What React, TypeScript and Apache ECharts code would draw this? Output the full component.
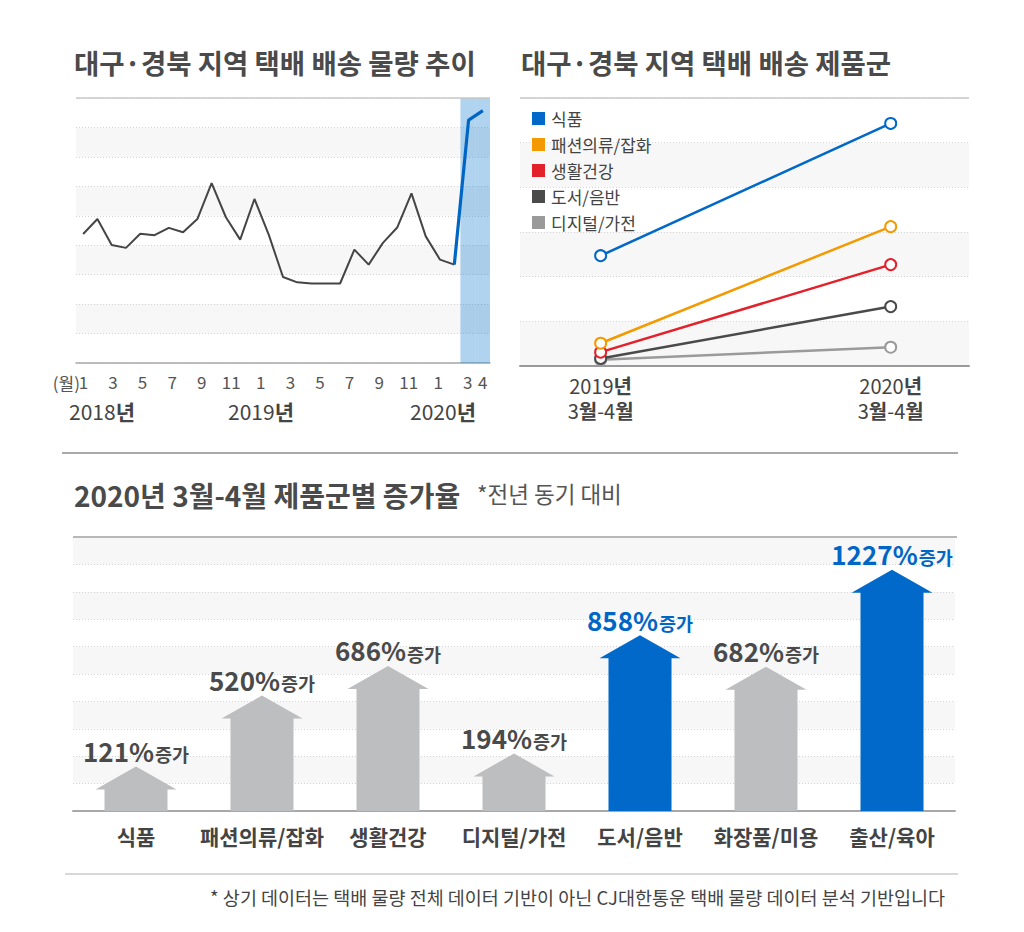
import React, { useEffect, useRef } from 'react';
import * as echarts from 'echarts';

const FONT = '"Noto Sans CJK KR", "Noto Sans", sans-serif';

// ---------- Top-left: monthly delivery volume trend ----------
const monthCategories = [
  '2018-1', '2018-2', '2018-3', '2018-4', '2018-5', '2018-6', '2018-7', '2018-8', '2018-9', '2018-10', '2018-11', '2018-12',
  '2019-1', '2019-2', '2019-3', '2019-4', '2019-5', '2019-6', '2019-7', '2019-8', '2019-9', '2019-10', '2019-11', '2019-12',
  '2020-1', '2020-2', '2020-3', '2020-4',
];
const highlightMonths = ['2020-3', '2020-4'];
const volumePointIds = [
  'p1', 'p2', 'p3', 'p4', 'p5', 'p6', 'p7', 'p8', 'p9', 'p10', 'p11', 'p12', 'p13', 'p14', 'p15',
  'p16', 'p17', 'p18', 'p19', 'p20', 'p21', 'p22', 'p23', 'p24', 'p25', 'p26', 'p27', 'p28', 'p29',
];
const volumeIndex = [
  4.38, 4.89, 4.01, 3.91, 4.39, 4.34, 4.59, 4.44, 4.89, 6.11, 4.95, 4.19, 5.57, 4.36, 2.92,
  2.74, 2.70, 2.70, 2.70, 3.85, 3.34, 4.08, 4.60, 5.76, 4.30, 3.51, 3.34, 8.25, 8.57,
];
const surgeStartIndex = 26;
const trendYMax = 9;
const yearLabels = ['2018년', '2019년', '2020년'];

// ---------- Top-right: product groups ----------
const productNames = ['식품', '패션의류/잡화', '생활건강', '도서/음반', '디지털/가전'];
const productColors = ['#0068c8', '#f39a00', '#e3212b', '#4a4a4a', '#9a9a9a'];
const volume2019 = [2.47, 0.51, 0.31, 0.17, 0.14];
const volume2020 = [5.43, 3.12, 2.27, 1.33, 0.42];
const periodYears = ['2019', '2020'];
const periodMonths = '3월-4월';

// ---------- Bottom: growth rate by product group ----------
const growthCategories = ['식품', '패션의류/잡화', '생활건강', '디지털/가전', '도서/음반', '화장품/미용', '출산/육아'];
const growthRates = [121, 520, 686, 194, 858, 682, 1227];
const growthHighlight = ['도서/음반', '출산/육아'];

const footnote = '* 상기 데이터는 택배 물량 전체 데이터 기반이 아닌 CJ대한통운 택배 물량 데이터 분석 기반입니다';

function korRich(t: string) {
  // digits / symbols regular, hangul bold
  return t.replace(/([0-9\-]+)/g, '{d|$1}').replace(/([가-힣]+)/g, '{k|$1}');
}

function buildOption(): any {
  const dotted = { color: '#d4d4d4', type: [1, 2] as any, width: 1 };
  const hidden = { show: false };
  const periodRich = {
    d: { fontFamily: FONT, fontSize: 20, color: '#444' },
    k: { fontFamily: FONT, fontSize: 20, color: '#444', fontWeight: 'bold' },
  };

  return {
    animation: false,
    backgroundColor: '#ffffff',
    textStyle: { fontFamily: FONT },
    title: [
      {
        text: '대구·경북 지역 택배 배송 물량 추이', left: 74, top: 48, padding: 0,
        textStyle: { fontFamily: FONT, fontSize: 27.5, fontWeight: 'bold', color: '#4a4a4a' },
      },
      {
        text: '대구·경북 지역 택배 배송 제품군', left: 521, top: 48, padding: 0,
        textStyle: { fontFamily: FONT, fontSize: 27.5, fontWeight: 'bold', color: '#4a4a4a' },
      },
      {
        text: '2020년 3월-4월 제품군별 증가율', left: 74, top: 481, padding: 0,
        textStyle: { fontFamily: FONT, fontSize: 28, fontWeight: 'bold', color: '#4a4a4a' },
      },
      {
        text: '*전년 동기 대비', left: 477, top: 482, padding: 0,
        textStyle: { fontFamily: FONT, fontSize: 22.5, fontWeight: 'normal', color: '#555' },
      },
      {
        text: footnote, right: 79, top: 888, padding: 0,
        textStyle: { fontFamily: FONT, fontSize: 18.5, fontWeight: 'normal', color: '#444' },
      },
    ],
    legend: {
      data: productNames,
      orient: 'vertical',
      left: 532,
      top: 110,
      icon: 'rect',
      itemWidth: 13,
      itemHeight: 13,
      itemGap: 9,
      padding: 0,
      selectedMode: false,
      textStyle: { fontFamily: FONT, fontSize: 17, color: '#444', padding: [0, 0, 0, 1] },
    },
    grid: [
      { left: 76, top: 98, width: 414, height: 265 },
      { left: 520, top: 98, width: 449, height: 268 },
      { left: 73, top: 537, width: 882, height: 274 },
    ],
    xAxis: [
      {
        type: 'category', gridIndex: 0, position: 'bottom', data: monthCategories, boundaryGap: true,
        axisLine: { lineStyle: { color: '#a8a8a8', width: 1.5 } },
        axisTick: hidden,
        axisLabel: {
          interval: 0, margin: 10, fontSize: 17, color: '#555', fontFamily: FONT,
          formatter: (v: string, idx: number) => {
            const m = Number(v.split('-')[1]);
            return m % 2 === 1 || idx === monthCategories.length - 1 ? String(m) : '';
          },
        },
        splitLine: hidden,
      },
      {
        type: 'category', gridIndex: 0, position: 'top', data: volumePointIds, boundaryGap: true, show: false,
      },
      {
        type: 'value', gridIndex: 1, position: 'bottom', min: -0.278, max: 1.27,
        axisLine: { show: true, onZero: false, lineStyle: { color: '#9a9a9a', width: 2 } },
        axisTick: hidden,
        splitLine: hidden,
        axisLabel: {
          customValues: [0, 1],
          margin: 9,
          formatter: (v: number) => korRich(`${periodYears[Math.round(v)]}년`),
          rich: periodRich,
        },
      },
      {
        type: 'category', gridIndex: 2, position: 'bottom', data: growthCategories,
        axisLine: { lineStyle: { color: '#a8a8a8', width: 2 } },
        axisTick: hidden,
        axisLabel: { interval: 0, margin: 14, fontSize: 21, fontWeight: 'bold', color: '#444', fontFamily: FONT },
      },
      {
        type: 'value', gridIndex: 1, position: 'bottom', offset: 0, min: -0.278, max: 1.27,
        axisLine: { show: false, onZero: false },
        axisTick: hidden,
        splitLine: hidden,
        axisLabel: {
          customValues: [0, 1],
          margin: 34,
          formatter: () => korRich(periodMonths),
          rich: periodRich,
        },
      },
    ],
    yAxis: [
      {
        type: 'value', gridIndex: 0, min: 0, max: trendYMax, interval: 1,
        axisLine: hidden, axisTick: hidden, axisLabel: hidden,
        splitLine: { lineStyle: dotted },
        splitArea: { show: true, areaStyle: { color: ['#ffffff', '#f7f7f7'] } },
      },
      {
        type: 'value', gridIndex: 1, min: 0, max: 6, interval: 1,
        axisLine: hidden, axisTick: hidden, axisLabel: hidden,
        splitLine: { lineStyle: dotted },
        splitArea: { show: true, areaStyle: { color: ['#f7f7f7', '#ffffff'] } },
      },
      {
        type: 'value', gridIndex: 2, min: 0, max: 1540, interval: 154,
        axisLine: hidden, axisTick: hidden, axisLabel: hidden,
        splitLine: { lineStyle: dotted },
        splitArea: { show: true, areaStyle: { color: ['#ffffff', '#f7f7f7'] } },
      },
    ],
    series: [
      {
        name: 'highlight',
        type: 'bar', xAxisIndex: 0, yAxisIndex: 0,
        data: monthCategories.map((m) => (highlightMonths.includes(m) ? trendYMax : null)),
        barCategoryGap: '0%', barGap: '0%',
        itemStyle: { color: 'rgba(0,112,208,0.31)' },
        silent: true, z: 1,
      },
      {
        name: 'trend',
        type: 'line', xAxisIndex: 1, yAxisIndex: 0,
        data: volumeIndex.map((v, i) => (i <= surgeStartIndex ? v : null)),
        symbol: 'none', lineStyle: { color: '#454545', width: 2 }, z: 3,
      },
      {
        name: 'surge',
        type: 'line', xAxisIndex: 1, yAxisIndex: 0,
        data: volumeIndex.map((v, i) => (i >= surgeStartIndex ? v : null)),
        symbol: 'none', lineStyle: { color: '#0066c6', width: 3.2 }, z: 4,
      },
      ...productNames.map((name, i) => ({
        name,
        type: 'line', xAxisIndex: 2, yAxisIndex: 1,
        data: [[0, volume2019[i]], [1, volume2020[i]]],
        symbol: 'emptyCircle', symbolSize: 11,
        color: productColors[i],
        lineStyle: { color: productColors[i], width: 2.5 },
        itemStyle: { color: productColors[i], borderWidth: 2.2 },
        z: 10 - i,
      })),
      {
        name: 'growth',
        type: 'custom', xAxisIndex: 3, yAxisIndex: 2,
        data: growthRates.map((v, i) => [i, v]),
        renderItem: (params: any, api: any) => {
          const i = api.value(0);
          const v = api.value(1);
          const top = api.coord([i, v]);
          const base = api.coord([i, 0]);
          const cx = top[0];
          const bw = 63, hw = 81, hh = 23;
          const hl = growthHighlight.includes(growthCategories[i]);
          const fill = hl ? '#0069c9' : '#bdbec0';
          const txt = hl ? '#0066c6' : '#4a4a4a';
          const ty = top[1];
          return {
            type: 'group',
            children: [
              {
                type: 'polygon',
                shape: {
                  points: [
                    [cx - bw / 2, base[1]], [cx - bw / 2, ty], [cx - hw / 2, ty], [cx, ty - hh],
                    [cx + hw / 2, ty], [cx + bw / 2, ty], [cx + bw / 2, base[1]],
                  ],
                },
                style: { fill },
              },
              {
                type: 'text',
                x: cx, y: ty - hh - 3,
                style: {
                  text: `{n|${v}%}{u|증가}`,
                  align: 'center', verticalAlign: 'bottom',
                  rich: {
                    n: { fontFamily: FONT, fontSize: 26, fontWeight: 'bold', fill: txt, verticalAlign: 'bottom', lineHeight: 30 },
                    u: { fontFamily: FONT, fontSize: 18.5, fontWeight: 'bold', fill: txt, verticalAlign: 'bottom', lineHeight: 28, padding: [0, 0, 0, 1] },
                  },
                },
              },
            ],
          };
        },
        z: 5,
      },
    ],
    graphic: [
      { type: 'line', shape: { x1: 76, y1: 98, x2: 490, y2: 98 }, style: { stroke: '#c8c8c8', lineWidth: 1.5 }, z: 50 },
      { type: 'line', shape: { x1: 520, y1: 98, x2: 969, y2: 98 }, style: { stroke: '#c8c8c8', lineWidth: 1.5 }, z: 50 },
      { type: 'line', shape: { x1: 73, y1: 537, x2: 957, y2: 537 }, style: { stroke: '#b8b8b8', lineWidth: 2 }, z: 50 },
      { type: 'line', shape: { x1: 62, y1: 453, x2: 958, y2: 453 }, style: { stroke: '#555555', lineWidth: 1 }, z: 50 },
      { type: 'line', shape: { x1: 65, y1: 874, x2: 958, y2: 874 }, style: { stroke: '#b0b0b0', lineWidth: 1 }, z: 50 },
      {
        type: 'text', x: 80, y: 382, z: 50,
        style: { text: '(월)', align: 'right', verticalAlign: 'middle', fontFamily: FONT, fontSize: 17, fill: '#555' },
      },
      ...yearLabels.map((t, i) => ({
        type: 'text', x: [102, 261, 443][i], y: 411, z: 50,
        style: {
          text: korRich(t),
          align: 'center', verticalAlign: 'middle',
          rich: {
            d: { fontFamily: FONT, fontSize: 21, fill: '#444' },
            k: { fontFamily: FONT, fontSize: 21, fill: '#444', fontWeight: 'bold' },
          },
        },
      })),
    ],
  };
}

export default function App() {
  const ref = useRef<HTMLDivElement>(null);
  useEffect(() => {
    document.body.style.margin = '0';
    if (!ref.current) return;
    const chart = echarts.init(ref.current, undefined, { renderer: 'svg' });
    chart.setOption(buildOption());
    return () => chart.dispose();
  }, []);
  return <div ref={ref} style={{ width: 1024, height: 932 }} />;
}
